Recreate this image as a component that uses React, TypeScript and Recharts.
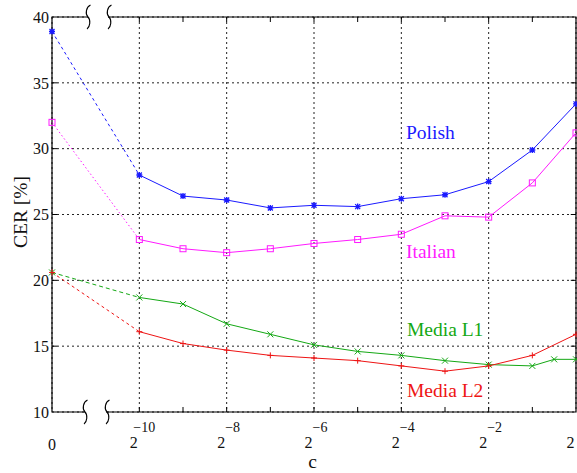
import { LineChart, Line, XAxis, YAxis, CartesianGrid, ReferenceArea, ReferenceLine } from 'recharts'

// x position in log2 units; -12 stands for c = 0 (left of the axis break)
const cPos = [-12, -10, -9, -8, -7, -6, -5, -4, -3, -2, -1, -0.5, 0]
const polish = [38.9, 28.0, 26.4, 26.1, 25.5, 25.7, 25.6, 26.2, 26.5, 27.5, 29.9, null, 33.4]
const italian = [32.0, 23.1, 22.4, 22.1, 22.4, 22.8, 23.1, 23.5, 24.9, 24.8, 27.4, null, 31.2]
const mediaL1 = [20.6, 18.7, 18.2, 16.7, 15.9, 15.1, 14.6, 14.3, 13.9, 13.6, 13.5, 14.0, 14.0]
const mediaL2 = [20.6, 16.1, 15.2, 14.7, 14.3, 14.1, 13.9, 13.5, 13.1, 13.5, 14.3, null, 15.9]

const xTicks = [-12, -10, -8, -6, -4, -2, 0]
// exponent of the last label is cut off by the figure edge in the original
const xTickExp = ['', '−10', '−8', '−6', '−4', '−2', '']
const yTicks = [10, 15, 20, 25, 30, 35, 40]
const minorX = [-10, -9, -8, -7, -6, -5, -4, -3, -2, -1]
const innerY = [15, 20, 25, 30, 35]

const BLUE = '#1a1aff'
const MAGENTA = '#ff1aff'
const GREEN = '#14a814'
const RED = '#ee1414'
const FONT = '"Liberation Serif", "DejaVu Serif", serif'

const data = cPos.map((c, i) => ({
  c,
  polish: i > 0 ? polish[i] : null,
  polishHead: i < 2 ? polish[i] : null,
  italian: i > 0 ? italian[i] : null,
  italianHead: i < 2 ? italian[i] : null,
  mediaL1: i > 0 ? mediaL1[i] : null,
  mediaL1Head: i < 2 ? mediaL1[i] : null,
  mediaL2: i > 0 ? mediaL2[i] : null,
  mediaL2Head: i < 2 ? mediaL2[i] : null,
}))

type Kind = 'star' | 'square' | 'x' | 'plus'

function marker(kind: Kind, color: string, headOnly = false) {
  return (props: any) => {
    const { cx, cy, value, index, payload } = props
    const k = `m-${kind}-${index}`
    if (cx == null || cy == null || value == null || (headOnly && payload.c !== -12)) return <g key={k} />
    const r = 3
    if (kind === 'square') {
      return <rect key={k} x={cx - r} y={cy - r} width={r * 2} height={r * 2} fill="none" stroke={color} strokeWidth={1} />
    }
    if (kind === 'x') {
      return (
        <path key={k} d={`M${cx - r},${cy - r}L${cx + r},${cy + r}M${cx - r},${cy + r}L${cx + r},${cy - r}`} stroke={color} strokeWidth={1} />
      )
    }
    if (kind === 'plus') {
      return <path key={k} d={`M${cx - r},${cy}L${cx + r},${cy}M${cx},${cy - r}L${cx},${cy + r}`} stroke={color} strokeWidth={1} />
    }
    return (
      <path
        key={k}
        d={`M${cx - r},${cy}L${cx + r},${cy}M${cx},${cy - r}L${cx},${cy + r}M${cx - 2.5},${cy - 2.5}L${cx + 2.5},${cy + 2.5}M${cx - 2.5},${cy + 2.5}L${cx + 2.5},${cy - 2.5}`}
        stroke={color}
        strokeWidth={1.3}
      />
    )
  }
}

function CTick(props: any) {
  const { x, y, payload } = props
  const i = xTicks.indexOf(payload.value)
  if (i === 0) {
    return (
      <text x={x} y={y + 37.7} textAnchor="middle" fontSize={16} fontFamily={FONT} fill="#111">
        0
      </text>
    )
  }
  const supX = payload.value === -10 ? x - 6 : x - 1.5
  return (
    <g>
      <text x={x - 1.5} y={y + 36.3} textAnchor="end" fontSize={16} fontFamily={FONT} fill="#111">
        2
      </text>
      {xTickExp[i] && (
        <text x={supX} y={y + 19.7} textAnchor="start" fontSize={14} fontFamily={FONT} fill="#111">
          {xTickExp[i]}
        </text>
      )}
    </g>
  )
}

// integral-like break mark centred on the axis line
function breakPath(x: number, y: number) {
  return `M${x + 2.5},${y - 12} C${x - 2},${y - 10} ${x - 3},${y - 3} ${x},${y} C${x + 3},${y + 3} ${x + 2},${y + 10} ${x - 1},${y + 12}`
}

export default function App() {
  return (
    <div style={{ position: 'absolute', left: 0, top: 0, width: 577, height: 473, background: '#fff' }}>
      <LineChart width={577} height={473} data={data} margin={{ top: 17, right: 1, bottom: 0, left: 0 }}>
        <CartesianGrid stroke="#222" strokeDasharray="2 3" />
        <XAxis
          dataKey="c"
          type="number"
          domain={[-12, 0]}
          ticks={xTicks}
          height={61}
          tickLine={false}
          axisLine={false}
          tickSize={0}
          tickMargin={0}
          tick={<CTick />}
          interval={0}
        />
        <YAxis
          type="number"
          domain={[10, 40]}
          ticks={yTicks}
          width={52}
          tickLine={false}
          axisLine={false}
          tickSize={0}
          tickMargin={3}
          interval={0}
          tick={{ fontSize: 16, fontFamily: FONT, fill: '#111' }}
        />
        <ReferenceArea x1={-12} x2={0} y1={10} y2={40} fill="none" stroke="#000" strokeWidth={1.2} />
        {minorX.map(v => (
          <ReferenceLine key={`b${v}`} segment={[{ x: v, y: 10 }, { x: v, y: 10.38 }]} stroke="#000" />
        ))}
        {minorX.map(v => (
          <ReferenceLine key={`t${v}`} segment={[{ x: v, y: 40 }, { x: v, y: 39.62 }]} stroke="#000" />
        ))}
        {innerY.map(v => (
          <ReferenceLine key={`l${v}`} segment={[{ x: -12, y: v }, { x: -11.88, y: v }]} stroke="#000" />
        ))}
        {innerY.map(v => (
          <ReferenceLine key={`r${v}`} segment={[{ x: 0, y: v }, { x: -0.12, y: v }]} stroke="#000" />
        ))}

        <Line dataKey="polishHead" stroke={BLUE} strokeDasharray="3 3" strokeWidth={1} dot={marker('star', BLUE, true)} isAnimationActive={false} />
        <Line dataKey="polish" stroke={BLUE} strokeWidth={1} connectNulls dot={marker('star', BLUE)} isAnimationActive={false} />
        <Line dataKey="italianHead" stroke={MAGENTA} strokeDasharray="1.5 2.5" strokeWidth={1} dot={marker('square', MAGENTA, true)} isAnimationActive={false} />
        <Line dataKey="italian" stroke={MAGENTA} strokeWidth={1} connectNulls dot={marker('square', MAGENTA)} isAnimationActive={false} />
        <Line dataKey="mediaL1Head" stroke={GREEN} strokeDasharray="4 3" strokeWidth={1} dot={marker('x', GREEN, true)} isAnimationActive={false} />
        <Line dataKey="mediaL1" stroke={GREEN} strokeWidth={1} connectNulls dot={marker('x', GREEN)} isAnimationActive={false} />
        <Line dataKey="mediaL2Head" stroke={RED} strokeDasharray="3 3" strokeWidth={1} dot={marker('plus', RED, true)} isAnimationActive={false} />
        <Line dataKey="mediaL2" stroke={RED} strokeWidth={1} connectNulls dot={marker('plus', RED)} isAnimationActive={false} />
      </LineChart>

      <svg width={577} height={473} style={{ position: 'absolute', left: 0, top: 0, pointerEvents: 'none' }}>
        <rect x={88} y={14} width={20} height={6} fill="#fff" />
        <rect x={85} y={409} width={21} height={6} fill="#fff" />
        <path d={breakPath(88, 17)} fill="none" stroke="#000" strokeWidth={1.1} />
        <path d={breakPath(109, 17)} fill="none" stroke="#000" strokeWidth={1.1} />
        <path d={breakPath(85, 412)} fill="none" stroke="#000" strokeWidth={1.1} />
        <path d={breakPath(107, 412)} fill="none" stroke="#000" strokeWidth={1.1} />

        <g fontFamily={FONT} fontSize={19.5}>
          <text x={406} y={139.3} fill={BLUE}>Polish</text>
          <text x={406} y={258} fill={MAGENTA}>Italian</text>
          <text x={407} y={336} fill={GREEN}>Media L1</text>
          <text x={407} y={397.3} fill={RED}>Media L2</text>
          <text x={312.5} y={468} textAnchor="middle" fill="#111">c</text>
          <text x={27} y={212} textAnchor="middle" fill="#111" transform="rotate(-90 27 212)">CER [%]</text>
        </g>
      </svg>
    </div>
  )
}
